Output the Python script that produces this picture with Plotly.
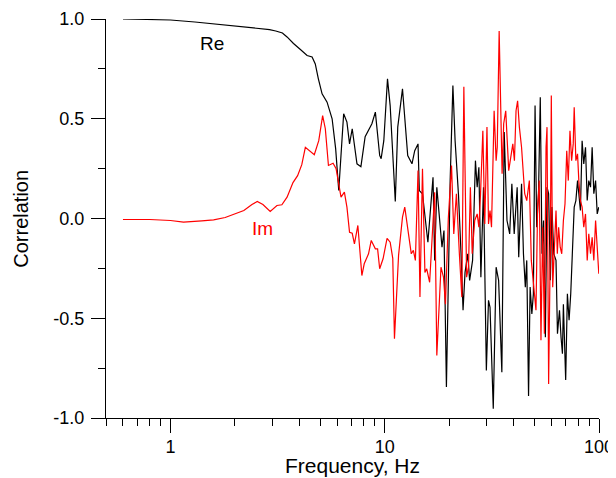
import math
import plotly.graph_objects as go

# ---- Data ----
freq_re = [0.6, 0.8, 1.0, 1.3, 1.6, 2.0, 2.5, 2.9, 3.1, 3.33, 3.5, 3.63, 3.75, 4.04, 4.34, 4.58, 4.74, 4.9,
           5.1, 5.38, 5.68, 5.9, 6.1, 6.43, 6.66, 6.85, 7.05, 7.42, 7.74, 8.1, 8.71, 9.04, 9.47, 9.62, 9.9,
           10.3, 10.6, 11.2, 11.5, 12.1, 12.8, 13.4, 13.8, 14.3, 14.5, 15.0, 15.9, 16.8, 17.1, 17.5, 18.5,
           18.9, 19.4, 20.2, 20.8, 21.3, 22.1, 22.7, 23.2, 23.7, 24.4, 24.9, 25.7, 26.5, 27.0, 27.5, 28.1,
           28.9, 29.8, 30.5, 31.0, 32.1, 33.1, 34.0, 35.2, 36.1, 37.2, 38.3, 39.2, 40.2, 41.5, 42.2, 43.5,
           44.4, 45.3, 46.0, 46.9, 47.7, 48.6, 49.4, 50.3, 51.2, 52.2, 53.2, 54.2, 55.1, 56.2, 57.2, 58.2,
           59.3, 60.3, 61.5, 63.0, 64.0, 65.4, 66.5, 67.5, 68.2, 69.9, 71.2, 72.5, 73.8, 75.1, 76.6, 78.0,
           79.4, 80.5, 81.9, 83.4, 84.9, 86.5, 88.1, 89.6, 91.3, 92.9, 94.6, 96.4, 98.1, 99.8]
re_vals = [1.0, 0.999, 0.995, 0.985, 0.975, 0.967, 0.955, 0.947, 0.94, 0.93, 0.91, 0.89, 0.877, 0.847, 0.817,
           0.81, 0.775, 0.70, 0.625, 0.583, 0.50, 0.35, 0.14, 0.525, 0.483, 0.374, 0.45, 0.274, 0.26, 0.41,
           0.475, 0.533, 0.316, 0.30, 0.39, 0.70, 0.566, 0.085, 0.458, 0.65, 0.316, 0.274, 0.34, 0.374, 0.14,
           0.124, -0.119, 0.207, -0.21, 0.157, -0.144, -0.06, -0.845, 0.19, 0.667, 0.39, 0.115, -0.177, -0.46,
           -0.27, -0.177, -0.31, -0.21, 0.29, 0.157, 0.257, -0.294, 0.157, -0.762, -0.41, -0.445, -0.954,
           -0.244, -0.31, -0.77, 0.433, -0.01, -0.077, 0.174, -0.077, 0.157, -0.194, 0.174, -0.177, -0.344,
           -0.21, -0.89, -0.344, -0.478, -0.377, 0.566, -0.044, 0.124, 0.608, -0.177, -0.01, -0.595, 0.157,
           0.124, -0.31, 0.057, -0.177, -0.21, -0.578, -0.46, -0.595, -0.678, -0.43, -0.81, -0.377, -0.51,
           -0.377, -0.177, 0.057, 0.09, 0.19, 0.124, 0.04, 0.39, 0.274, 0.357, 0.09, 0.19, 0.157, 0.357,
           0.124, 0.19, 0.023, 0.057]

freq_im = [0.6, 0.8, 1.0, 1.15, 1.4, 1.59, 1.8, 1.97, 2.2, 2.4, 2.54, 2.7, 2.92, 3.14, 3.31, 3.5, 3.73, 3.92,
           4.1, 4.26, 4.69, 4.92, 5.13, 5.28, 5.46, 5.74, 5.93, 6.25, 6.48, 6.66, 6.85, 7.05, 7.22, 7.49,
           7.82, 8.02, 8.4, 8.65, 9.04, 9.26, 9.47, 9.82, 10.25, 10.6, 10.9, 11.1, 11.6, 12.1, 12.4, 13.3,
           13.6, 13.9, 14.3, 14.6, 15.0, 15.4, 15.7, 16.2, 17.1, 17.5, 18.3, 18.8, 19.2, 19.8, 20.5, 21.0,
           21.6, 22.3, 22.9, 23.4, 24.1, 24.6, 25.1, 25.6, 26.3, 27.0, 27.5, 28.0, 28.7, 29.3, 30.0, 30.5,
           31.0, 31.5, 32.4, 33.1, 33.5, 34.2, 34.8, 35.3, 35.9, 36.7, 37.9, 38.8, 39.6, 40.3, 41.0, 41.7,
           42.5, 43.5, 45.0, 46.0, 47.3, 48.3, 49.4, 50.8, 51.7, 52.6, 53.6, 54.6, 55.6, 56.6, 57.2, 58.2,
           59.3, 59.9, 60.8, 61.9, 63.0, 63.9, 64.8, 65.9, 67.0, 68.2, 69.4, 70.7, 71.9, 73.2, 74.5, 75.8,
           76.6, 78.0, 79.4, 80.5, 81.9, 83.4, 84.9, 86.5, 88.1, 89.6, 91.3, 92.9, 94.6, 96.4, 98.1, 99.8]
im_vals = [-0.005, -0.005, -0.01, -0.018, -0.012, -0.007, 0.005, 0.02, 0.04, 0.07, 0.085, 0.07, 0.035, 0.065,
           0.069, 0.107, 0.18, 0.215, 0.27, 0.357, 0.32, 0.39, 0.516, 0.45, 0.266, 0.277, 0.249, 0.107, 0.132,
           0.057, -0.069, -0.074, -0.127, -0.035, -0.286, -0.227, -0.177, -0.11, -0.152, -0.152, -0.252,
           -0.202, -0.10, -0.119, -0.2, -0.603, -0.185, 0.007, 0.057, -0.177, -0.16, -0.21, 0.24, -0.394,
           0.249, -0.27, -0.252, -0.32, 0.132, -0.687, -0.244, -0.294, -0.43, 0.0, 0.266, -0.077, 0.124,
           -0.177, -0.394, 0.66, -0.294, -0.244, 0.157, -0.177, -0.01, 0.023, -0.044, 0.124, 0.44, -0.027,
           0.458, -0.027, 0.04, -0.044, 0.54, 0.29, 0.357, 0.94, 0.49, 0.224, 0.475, 0.54, 0.24, 0.324, 0.374,
           0.29, 0.54, 0.59, 0.458, 0.357, 0.124, 0.09, 0.19, -0.21, -0.31, -0.46, 0.057, 0.19, -0.61, -0.044,
           -0.578, 0.357, 0.458, -0.83, -0.11, 0.617, -0.344, -0.094, 0.04, -0.177, -0.044, -0.144, -0.177,
           -0.01, 0.074, 0.34, 0.19, 0.44, 0.29, 0.374, 0.558, 0.29, 0.324, 0.19, 0.09, 0.057, -0.044, 0.023,
           -0.21, -0.077, -0.177, -0.094, -0.21, -0.01, -0.177, -0.277]

x_major = [1, 10, 100]
x_major_text = ["1", "10", "100"]
x_minor = [0.5, 0.6, 0.7, 0.8, 0.9, 2, 3, 4, 5, 6, 7, 8, 9, 20, 30, 40, 50, 60, 70, 80, 90]
y_major = [-1.0, -0.5, 0.0, 0.5, 1.0]
y_major_text = ["-1.0", "-0.5", "0.0", "0.5", "1.0"]
y_minor = [-0.75, -0.25, 0.25, 0.75]

FONT = "Liberation Sans, Arial, sans-serif"

fig = go.Figure()
fig.add_trace(go.Scatter(x=freq_re, y=re_vals, mode="lines", name="Re",
                         line=dict(color="black", width=1.2)))
fig.add_trace(go.Scatter(x=freq_im, y=im_vals, mode="lines", name="Im",
                         line=dict(color="#ff0000", width=1.2)))

axis_common = dict(showgrid=False, zeroline=False, showline=True, linecolor="black", linewidth=1,
                   ticks="outside", ticklen=14, tickwidth=1, tickcolor="black", automargin=False,
                   tickfont=dict(family=FONT, size=18, color="black"))

# the page body adds an 8px offset, so the figure is sized to fit the window without scrolling
fig.update_layout(
    width=608, height=470,
    margin=dict(l=98, r=17, t=11, b=60, autoexpand=False),
    paper_bgcolor="white", plot_bgcolor="white",
    showlegend=False,
    xaxis=dict(type="log", range=[math.log10(0.5), 2], tickmode="array",
               tickvals=x_major, ticktext=x_major_text, ticklabelstandoff=-2,
               minor=dict(tickmode="array", tickvals=x_minor, ticks="outside", ticklen=7,
                          tickwidth=1, tickcolor="black", showgrid=False),
               **axis_common),
    yaxis=dict(range=[-1, 1], tickmode="array", tickvals=y_major, ticktext=y_major_text,
               ticklabelstandoff=3,
               minor=dict(tickmode="array", tickvals=y_minor, ticks="outside", ticklen=7,
                          tickwidth=1, tickcolor="black", showgrid=False),
               **axis_common),
    annotations=[
        dict(text="Frequency, Hz", xref="paper", yref="paper", x=0.5, y=-0.119,
             xanchor="center", yanchor="middle", showarrow=False,
             font=dict(family=FONT, size=21, color="black")),
        dict(text="Correlation", xref="paper", yref="paper", x=-0.174, y=0.5,
             xanchor="center", yanchor="middle", textangle=-90, showarrow=False,
             font=dict(family=FONT, size=20, color="black")),
        dict(text="Re", xref="paper", yref="paper", x=0.216, y=0.938,
             xanchor="center", yanchor="middle", showarrow=False,
             font=dict(family=FONT, size=19, color="black")),
        dict(text="Im", xref="paper", yref="paper", x=0.318, y=0.475,
             xanchor="center", yanchor="middle", showarrow=False,
             font=dict(family=FONT, size=19, color="#ff0000")),
    ],
)

fig.write_html("out.html")
